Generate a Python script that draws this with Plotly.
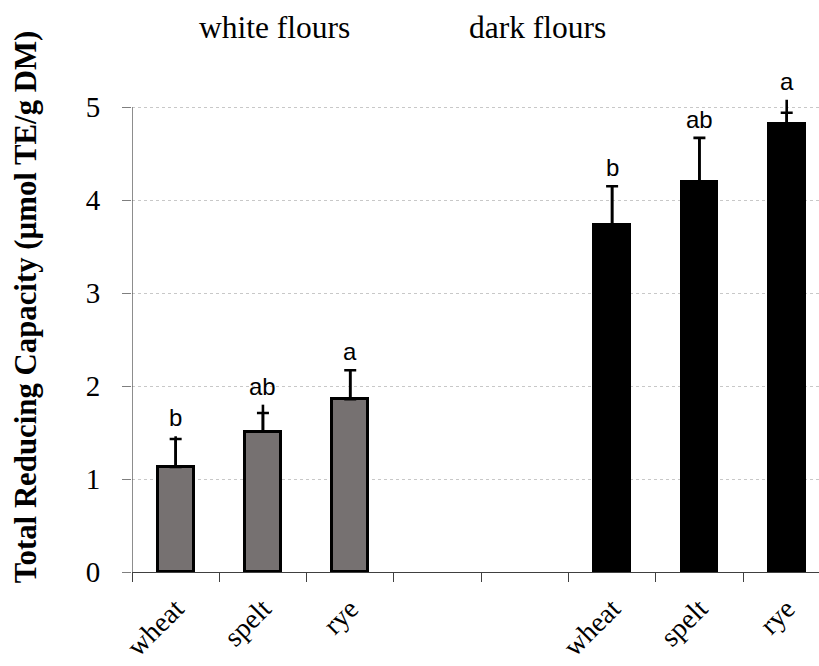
import plotly.graph_objects as go

# ---- data ----
categories = ["wheat", "spelt", "rye"]
group_names = ["white flours", "dark flours"]
white_vals = [1.13, 1.51, 1.86]
white_err = [0.30, 0.20, 0.31]
white_whisker = [0.33, 0.29, 0.31]
white_letters = ["b", "ab", "a"]
dark_vals = [3.73, 4.20, 4.82]
dark_err = [0.42, 0.47, 0.12]
dark_whisker = [0.42, 0.47, 0.26]
dark_letters = ["b", "ab", "a"]
y_ticks = [0, 1, 2, 3, 4, 5]
y_title = "Total Reducing Capacity (µmol TE/g DM)"

# slot positions: 3 white bars, 2 empty slots, 3 dark bars
n = len(categories)
white_x = list(range(n))
dark_x = [n + 2 + i for i in range(n)]
all_x = white_x + dark_x
boundaries = [i - 0.5 for i in range(len(all_x) + 2)]

SERIF = "Liberation Serif, Times New Roman, serif"
SANS = "Liberation Sans, Arial, sans-serif"

fig = go.Figure()

def add_group(xs, vals, errs, whisk, color):
    fig.add_trace(go.Bar(
        x=xs, y=vals, width=0.41,
        marker=dict(color=color, line=dict(color="black", width=3)),
        error_y=dict(type="data", symmetric=False, array=errs,
                     arrayminus=[0] * len(errs), color="black",
                     thickness=2.6, width=6),
        showlegend=False, hoverinfo="skip",
    ))
    fig.add_trace(go.Scatter(
        x=xs, y=vals, mode="markers",
        marker=dict(size=1, opacity=0),
        error_y=dict(type="data", symmetric=False, array=whisk,
                     arrayminus=[0] * len(whisk), color="black",
                     thickness=2.6, width=0),
        showlegend=False, hoverinfo="skip",
    ))

add_group(white_x, white_vals, white_err, white_whisker, "#767171")
add_group(dark_x, dark_vals, dark_err, dark_whisker, "#000000")

# significance letters
for xs, vals, whisk, letters in [(white_x, white_vals, white_whisker, white_letters),
                                  (dark_x, dark_vals, dark_whisker, dark_letters)]:
    for x, v, w, t in zip(xs, vals, whisk, letters):
        fig.add_annotation(x=x, y=v + w, text=t, showarrow=False,
                           xanchor="center", yanchor="bottom", yshift=3,
                           font=dict(family=SANS, size=24, color="black"))

# group titles
fig.add_annotation(x=1.127, y=1.1245, xref="x", yref="paper", text=group_names[0],
                   showarrow=False, xanchor="center", yanchor="top",
                   font=dict(family=SERIF, size=31.5, color="black"))
fig.add_annotation(x=4.145, y=1.1245, xref="x", yref="paper", text=group_names[1],
                   showarrow=False, xanchor="center", yanchor="top",
                   font=dict(family=SERIF, size=31.5, color="black"))

# y-axis title
fig.add_annotation(x=-0.154, y=0.528, xref="paper", yref="paper", text="<b>" + y_title + "</b>",
                   textangle=-90, showarrow=False, xanchor="center", yanchor="middle",
                   font=dict(family=SERIF, size=30.8, color="black"))

# y axis line (stops at top tick)
fig.add_shape(type="line", xref="x", yref="y", x0=-0.5, x1=-0.5, y0=0, y1=5,
              line=dict(color="#404040", width=1.2))

fig.update_layout(
    width=819, height=666,
    margin=dict(l=132, r=0, t=70, b=94, autoexpand=False),
    plot_bgcolor="white", paper_bgcolor="white",
    bargap=0,
    xaxis=dict(
        range=[-0.5, 7.37], automargin=False,
        tickvals=all_x, ticktext=categories + categories,
        tickangle=-45, ticks="", ticklabelstandoff=8,
        tickfont=dict(family=SERIF, size=28, color="black"),
        showline=True, linecolor="#404040", linewidth=1.2,
        showgrid=False, zeroline=False,
        minor=dict(tickvals=boundaries, ticks="outside", ticklen=9,
                   tickcolor="#404040", tickwidth=1.2, showgrid=False),
    ),
    yaxis=dict(
        range=[0, 5.4], tickvals=y_ticks, automargin=False,
        ticks="outside", ticklen=9, tickcolor="#7f7f7f", tickwidth=1.2,
        ticklabelstandoff=16,
        tickfont=dict(family=SERIF, size=29, color="black"),
        showgrid=True, gridcolor="#c8c8c8", griddash="dot", gridwidth=1,
        zeroline=False, showline=False,
    ),
)

fig.write_html("out.html", config={"displayModeBar": False},
               post_script="document.body.style.margin='0';")
